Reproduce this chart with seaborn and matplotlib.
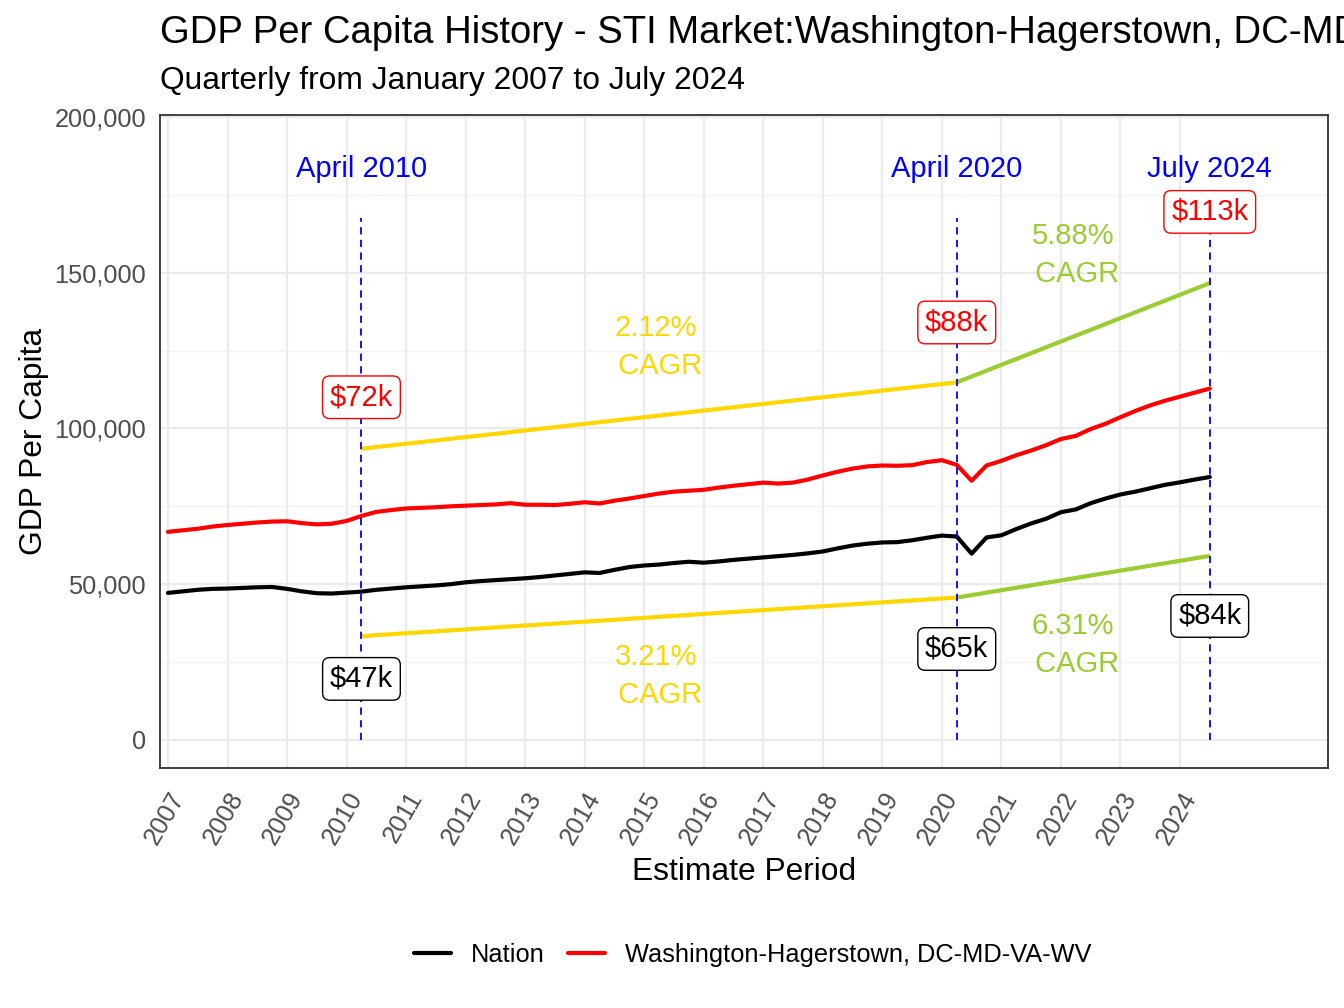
import numpy as np
import pandas as pd
import matplotlib
matplotlib.use("Agg")
import matplotlib.pyplot as plt
import seaborn as sns

# Quarterly GDP per capita (thousands of $), Jan 2007 .. Jul 2024
years = list(range(2007, 2025))
nation = [
    47.2, 47.7, 48.2, 48.5,
    48.6, 48.8, 49.0, 49.1,
    48.5, 47.7, 47.1, 47.0,
    47.3, 47.6, 48.2, 48.6,
    49.0, 49.3, 49.6, 50.0,
    50.6, 51.0, 51.3, 51.6,
    51.9, 52.3, 52.8, 53.3,
    53.8, 53.6, 54.6, 55.5,
    56.0, 56.3, 56.8, 57.2,
    56.9, 57.3, 57.8, 58.2,
    58.6, 59.0, 59.4, 59.9,
    60.5, 61.5, 62.4, 63.0,
    63.4, 63.5, 64.1, 64.9,
    65.6, 65.3, 59.8, 65.0,
    65.7, 67.7, 69.5, 71.0,
    73.1, 74.0, 76.0, 77.5,
    78.8, 79.7, 80.8, 81.9,
    82.7, 83.6, 84.4,
]
metro = [
    66.8, 67.3, 67.8, 68.5,
    69.0, 69.4, 69.8, 70.1,
    70.2, 69.6, 69.2, 69.4,
    70.3, 71.9, 73.2, 73.8,
    74.3, 74.5, 74.7, 75.0,
    75.2, 75.4, 75.6, 76.0,
    75.5, 75.5, 75.4, 75.8,
    76.3, 75.9, 76.8, 77.5,
    78.3, 79.1, 79.7, 80.0,
    80.3, 81.0, 81.6, 82.1,
    82.6, 82.3, 82.6, 83.6,
    84.9, 86.1, 87.1, 87.8,
    88.1, 88.0, 88.2, 89.2,
    89.8, 88.3, 83.2, 88.1,
    89.6, 91.4, 92.9, 94.6,
    96.6, 97.6, 99.8, 101.5,
    103.6, 105.6, 107.4, 108.9,
    110.2, 111.5, 112.8,
]
series_names = ["Nation", "Washington-Hagerstown, DC-MD-VA-WV"]
series_colors = ["black", "red"]

# marker dates (April 2010, April 2020, July 2024)
mark_dates = [2010 + 3 / 12, 2020 + 3 / 12, 2024 + 6 / 12]
mark_titles = ["April 2010", "April 2020", "July 2024"]
metro_labels = ["$72k", "$88k", "$113k"]
nation_labels = ["$47k", "$65k", "$84k"]
metro_cagr = ["2.12%", "5.88%"]
nation_cagr = ["3.21%", "6.31%"]
cagr_colors = ["gold", "yellowgreen"]

# build long table
dates = [y + m / 12 for y in years for m in (0, 3, 6, 9)][:len(nation)]
df = pd.DataFrame({
    "date": dates * 2,
    "value": np.array(nation + metro) * 1000,
    "series": [series_names[0]] * len(nation) + [series_names[1]] * len(metro),
})

sns.set_theme(style="whitegrid")
plt.rcParams["font.family"] = ["Liberation Sans", "DejaVu Sans"]
plt.rcParams["text.color"] = "black"
plt.rcParams["axes.labelcolor"] = "black"

fig = plt.figure(figsize=(13.44, 10.08), dpi=100)
ax = fig.add_axes([160 / 1344, 1 - 768 / 1008, (1328 - 160) / 1344, (768 - 115) / 1008])

sns.lineplot(data=df, x="date", y="value", hue="series", hue_order=series_names,
             palette=series_colors, linewidth=3.0, ax=ax)


def value_at(name, d):
    sub = df[df["series"] == name]
    idx = (sub["date"] - d).abs().idxmin()
    return sub.loc[idx, "value"]


# CAGR segments (offset copies of the series so they don't overlap)
for name, factor in [(series_names[1], 1.3), (series_names[0], 0.7)]:
    for i in range(2):
        x0, x1 = mark_dates[i], mark_dates[i + 1]
        ax.plot([x0, x1], [value_at(name, x0) * factor, value_at(name, x1) * factor],
                color=cagr_colors[i], lw=3.0, solid_capstyle="butt", zorder=3)

# dashed markers + titles
for d, t in zip(mark_dates, mark_titles):
    ax.vlines(d, 0, 167600, colors="blue", linestyles=(0, (4, 3)), lw=1.3, zorder=4)
    ax.text(d, 183300, t, color="blue", fontsize=21, ha="center", va="center")

# boxed value labels
metro_label_y = [110000, 134000, 169500]
nation_label_y = [19600, 29200, 39800]
for d, lab, yy in zip(mark_dates, metro_labels, metro_label_y):
    ax.text(d, yy, lab, color="red", fontsize=21, ha="center", va="center", zorder=5,
            bbox=dict(boxstyle="round,pad=0.25", fc="white", ec="red", lw=1))
for d, lab, yy in zip(mark_dates, nation_labels, nation_label_y):
    ax.text(d, yy, lab, color="black", fontsize=21, ha="center", va="center", zorder=5,
            bbox=dict(boxstyle="round,pad=0.25", fc="white", ec="black", lw=1))

# CAGR text
mids = [(mark_dates[0] + mark_dates[1]) / 2 - 0.05, (mark_dates[1] + mark_dates[2]) / 2 - 0.17]
for i in range(2):
    ax.text(mids[i], [126000, 155700][i], metro_cagr[i] + "\n CAGR", color=cagr_colors[i],
            fontsize=21, ha="center", va="center", linespacing=1.45)
    ax.text(mids[i], [20500, 30500][i], nation_cagr[i] + "\n CAGR", color=cagr_colors[i],
            fontsize=21, ha="center", va="center", linespacing=1.45)

# axes
ax.set_xlim(2006.866, 2026.486)
ax.set_ylim(-9000, 200600)
ax.set_xticks(years)
ax.set_xticklabels([str(y) for y in years], rotation=60, ha="right", va="top",
                   rotation_mode="anchor")
ax.set_yticks([0, 50000, 100000, 150000, 200000])
ax.set_yticklabels([f"{v:,}" for v in [0, 50000, 100000, 150000, 200000]])
ax.set_yticks([25000, 75000, 125000, 175000], minor=True)
ax.tick_params(axis="both", which="major", length=6, width=1.2, color="#333333",
               labelcolor="#4D4D4D", labelsize=18.3, pad=4)
ax.tick_params(axis="x", which="major", pad=8)
ax.tick_params(which="minor", length=0)
ax.grid(which="major", color="#EBEBEB", lw=1.6)
ax.grid(which="minor", axis="y", color="#F2F2F2", lw=0.9)
ax.grid(which="minor", axis="x", visible=False)
for s in ax.spines.values():
    s.set_color("#333333")
    s.set_linewidth(1.3)
ax.set_xlabel("Estimate Period", fontsize=22.9, labelpad=6)
ax.set_ylabel("GDP Per Capita", fontsize=22.9, labelpad=4)

sns.move_legend(ax, "center", bbox_to_anchor=(0.560, 0.053), bbox_transform=fig.transFigure,
                ncol=2, title=None, frameon=False, fontsize=18.3, handlelength=1.46,
                handletextpad=0.8, columnspacing=0.9)

fig.text(160 / 1344, 1 - 33 / 1008, "GDP Per Capita History - STI Market:Washington-Hagerstown, DC-MD-VA-WV",
         fontsize=27.5, ha="left", va="center")
fig.text(160 / 1344, 1 - 81 / 1008, "Quarterly from January 2007 to July 2024",
         fontsize=22.9, ha="left", va="center")

fig.savefig("out.png", dpi=100)
